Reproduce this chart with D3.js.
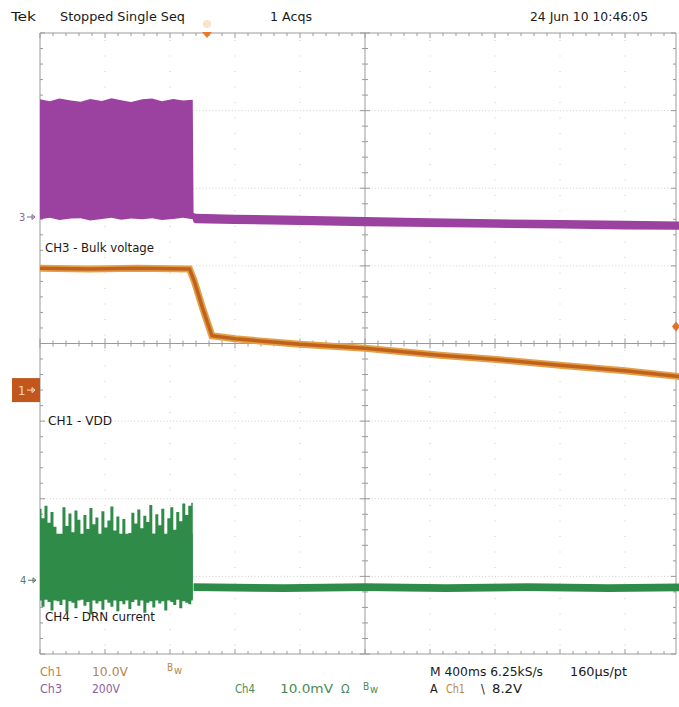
<!DOCTYPE html>
<html>
    <head>
        <title>Scope capture</title>
        <script src="https://d3js.org/d3.v7.min.js"></script>
        <style>
            body { margin:0; background:white; }
            svg { width:679px; height:707px; display:block; }
            text { font-family:'Liberation Sans Narrow','DejaVu Sans Condensed',sans-serif; }
        </style>
    </head>
    <body>
        <svg></svg>
    </body>
    <script>
        // Channel settings (volts per division, ground position in divisions)
        const channelNames = ['CH3', 'CH1', 'CH4'];
        const voltsPerDiv = { CH3: 200, CH1: 10, CH4: 10 };   // CH4 in mV
        const groundDiv   = { CH3: 1.63, CH1: -0.60, CH4: -3.05 };

        // CH3 bulk voltage: burst envelope then discharge band (V)
        const ch3Time   = [0, 0.06, 0.12, 0.19, 0.25, 0.31, 0.38, 0.44, 0.5, 0.56, 0.63, 0.69, 0.75, 0.82, 0.88, 0.94,
                           0.945, 0.96, 1.2, 1.6, 2.0, 2.4, 2.8, 3.2, 3.6, 3.95];
        const ch3Top    = [303, 298, 305, 300, 297, 304, 299, 306, 301, 296, 303, 305, 298, 304, 300, 302,
                           10, 8, 6, 3, 0, -3, -6, -8, -10, -12];
        const ch3Bottom = [-6, -2, -8, -4, -3, -9, -5, -2, -7, -4, -6, -3, -8, -5, -2, -6,
                           -14, -16, -18, -21, -24, -26, -28, -30, -32, -33];

        // CH1 VDD (V)
        const ch1Time  = [0, 0.3, 0.6, 0.92, 0.95, 1.0, 1.058, 1.2, 1.6, 2.0, 2.46, 2.83, 3.2, 3.6, 3.95];
        const ch1Volts = [15.7, 15.6, 15.7, 15.6, 14.0, 10.6, 7.0, 6.6, 5.9, 5.4, 4.5, 3.9, 3.2, 2.5, 1.7];

        // CH4 DRN current: switching burst peaks (mV), one per sample
        const ch4BurstTop = [9.2, 8.0, 9.6, 7.4, 8.8, 6.9, 3.4, 5.8, 9.4, 7.0, 8.6, 6.2, 9.0, 7.8, 5.2, 8.4, 6.6,
                             9.3, 7.2, 8.1, 5.9, 8.9, 6.8, 7.7, 9.5, 6.4, 8.2, 5.5, 7.9, 2.6, 6.1, 8.7, 7.3, 9.1,
                             6.7, 8.3, 7.5, 9.7, 6.0, 8.5, 7.1, 9.2, 5.7, 8.0, 9.4, 6.5, 8.8, 7.6, 9.9, 8.4, 9.6, 10.0];
        const ch4BurstBottom = [-2.6, -3.4, -2.5, -2.8, -3.9, -2.6, -2.7, -3.2, -2.5, -4.1, -2.7, -2.9, -3.6, -2.6,
                                -2.5, -3.3, -2.8, -4.4, -2.6, -3.0, -2.7, -3.8, -2.5, -2.9, -3.4, -2.6, -4.0, -2.7,
                                -3.1, -2.6, -3.7, -2.8, -2.5, -3.3, -2.6, -4.2, -2.9, -2.7, -3.5, -2.6, -3.0, -2.7,
                                -3.9, -2.6, -2.8, -3.2, -2.5, -3.6, -2.7, -2.9, -3.1, -2.6];
        const ch4BurstEnd = 0.94;   // s
        const ch4FlatTime   = [0.945, 1.5, 2.0, 2.5, 3.0, 3.5, 3.95];
        const ch4FlatTop    = [-0.4, -0.5, -0.4, -0.5, -0.4, -0.5, -0.4];
        const ch4FlatBottom = [-1.4, -1.5, -1.4, -1.5, -1.4, -1.5, -1.4];

        const headerTexts = ['Tek', 'Stopped  Single Seq', '1 Acqs', '24 Jun 10 10:46:05'];
        const traceLabels = ['CH3 - Bulk voltage', 'CH1 - VDD', 'CH4 - DRN current'];

        const svg = d3.select('svg');
        const width = 679, height = 707;
        const plot = { left:40, top:33, bottom:654, right:676 };
        const colors = { CH3:'#9b41a0', CH1:'#c0621c', CH1edge:'#e3a048', CH4:'#2f8c48' };

        svg.append('rect').attr('width', width).attr('height', height).attr('fill', 'white');

        // 0.4 s/div, 10 divisions; 8 vertical divisions
        const xScale = d3.scaleLinear().domain([0, 4]).range([plot.left, plot.left + 650]);
        const yScale = d3.scaleLinear().domain([-4, 4]).range([plot.bottom, plot.top]);
        const yCh = (ch, v) => yScale(v / voltsPerDiv[ch] + groundDiv[ch]);

        /* graticule */
        const grid = svg.append('g');
        const divX = d3.range(0, 4.01, 0.4), divY = d3.range(-4, 4.01, 1);
        grid.selectAll('.vgrid').data(divX.filter(t => t > 0 && t < 3.9 && Math.abs(t - 2) > 0.01))
            .enter().append('line')
            .attr('x1', d => xScale(d)).attr('x2', d => xScale(d))
            .attr('y1', plot.top).attr('y2', plot.bottom)
            .attr('stroke', '#c8c8c8').attr('stroke-dasharray', '1,14.5').attr('stroke-dashoffset', -7);
        grid.selectAll('.hgrid').data(divY.filter(d => d > -4 && d < 4 && d !== 0))
            .enter().append('line')
            .attr('x1', plot.left).attr('x2', plot.right)
            .attr('y1', d => yScale(d)).attr('y2', d => yScale(d))
            .attr('stroke', '#cdcdcd').attr('stroke-dasharray', '1,2.25');

        const minorX = d3.range(0, 3.92, 0.08), minorY = d3.range(-4, 4.01, 0.2);
        const axisColor = '#9a9a9a';
        // border
        grid.append('path')
            .attr('d', `M${plot.right},${plot.top}H${plot.left}V${plot.bottom}H${plot.right}V${plot.top}`)
            .attr('fill', 'none').attr('stroke', axisColor);
        // center axes
        grid.append('line').attr('x1', plot.left).attr('x2', plot.right)
            .attr('y1', yScale(0)).attr('y2', yScale(0)).attr('stroke', axisColor);
        grid.append('line').attr('x1', xScale(2)).attr('x2', xScale(2))
            .attr('y1', plot.top).attr('y2', plot.bottom).attr('stroke', axisColor);
        // ticks
        const tickLen = d => (Math.abs(d / 0.4 - Math.round(d / 0.4)) < 0.01 ? 5 : 3);
        minorX.forEach(t => {
            const x = xScale(t), l = tickLen(t);
            [[plot.top, plot.top + l], [plot.bottom - l, plot.bottom], [yScale(0) - l, yScale(0) + l]]
                .forEach(([a, b]) => grid.append('line').attr('x1', x).attr('x2', x)
                    .attr('y1', a).attr('y2', b).attr('stroke', axisColor));
        });
        minorY.forEach(v => {
            const y = yScale(v), l = Math.abs(v - Math.round(v)) < 0.01 ? 5 : 3;
            [[plot.left, plot.left + l], [plot.right - l, plot.right], [xScale(2) - l, xScale(2) + l]]
                .forEach(([a, b]) => grid.append('line').attr('x1', a).attr('x2', b)
                    .attr('y1', y).attr('y2', y).attr('stroke', axisColor));
        });

        /* traces */
        const traces = svg.append('g');

        // CH3
        const ch3Data = ch3Time.map((t, i) => ({ t, hi: ch3Top[i], lo: ch3Bottom[i] }));
        traces.append('path').datum(ch3Data)
            .attr('d', d3.area().x(d => xScale(d.t)).y0(d => yCh('CH3', d.lo)).y1(d => yCh('CH3', d.hi)))
            .attr('fill', colors.CH3);

        // CH1
        const ch1Data = ch1Time.map((t, i) => ({ t, v: ch1Volts[i] }));
        const ch1Line = d3.line().x(d => xScale(d.t)).y(d => yCh('CH1', d.v));
        traces.append('path').datum(ch1Data).attr('d', ch1Line)
            .attr('fill', 'none').attr('stroke', colors.CH1edge).attr('stroke-width', 7);
        traces.append('path').datum(ch1Data).attr('d', ch1Line)
            .attr('fill', 'none').attr('stroke', colors.CH1).attr('stroke-width', 3.5);

        // CH4
        const step = ch4BurstEnd / (ch4BurstTop.length - 1);
        const ch4Burst = ch4BurstTop.map((v, i) => ({ t: i * step, hi: v, lo: ch4BurstBottom[i] }));
        const ch4Flat = ch4FlatTime.map((t, i) => ({ t, hi: ch4FlatTop[i], lo: ch4FlatBottom[i] }));
        const ch4Area = d3.area().x(d => xScale(d.t))
            .y0(d => yCh('CH4', d.lo)).y1(d => yCh('CH4', d.hi));
        traces.append('path').datum(ch4Burst).attr('d', ch4Area.curve(d3.curveStep))
            .attr('fill', colors.CH4);
        // a solid core under the spikes
        traces.append('path').datum(ch4Burst)
            .attr('d', d3.area().x(d => xScale(d.t)).y0(yCh('CH4', -2.4)).y1(yCh('CH4', 6.0)))
            .attr('fill', colors.CH4);
        traces.append('path').datum(ch4Flat)
            .attr('d', d3.area().x(d => xScale(d.t)).y0(d => yCh('CH4', d.lo)).y1(d => yCh('CH4', d.hi)))
            .attr('fill', colors.CH4);

        /* markers */
        const mk = svg.append('g');
        mk.append('text').attr('x', 19).attr('y', yCh('CH3', 0) + 4).attr('font-size', 11)
            .attr('fill', '#8a6a92').text('3');
        mk.append('path').attr('d', `M27,${yCh('CH3', 0)}h8l-3,-2.5v5l3,-2.5`)
            .attr('stroke', '#8a6a92').attr('fill', 'none');
        mk.append('rect').attr('x', 12).attr('y', yCh('CH1', 0) - 12).attr('width', 28).attr('height', 24)
            .attr('fill', '#c2571e');
        mk.append('text').attr('x', 18).attr('y', yCh('CH1', 0) + 5).attr('font-size', 13)
            .attr('fill', '#f4d8c0').text('1');
        mk.append('path').attr('d', `M27,${yCh('CH1', 0)}h8l-3,-2.5v5l3,-2.5`)
            .attr('stroke', '#f4d8c0').attr('fill', 'none');
        mk.append('text').attr('x', 20).attr('y', yCh('CH4', 0) + 4).attr('font-size', 11)
            .attr('fill', '#5a7a5e').text('4');
        mk.append('path').attr('d', `M28,${yCh('CH4', 0)}h8l-3,-2.5v5l3,-2.5`)
            .attr('stroke', '#5a7a5e').attr('fill', 'none');
        // trigger position and level
        mk.append('path').attr('d', `M202,32h10l-5,6z`).attr('fill', '#e8782a');
        mk.append('circle').attr('cx', 207).attr('cy', 24).attr('r', 4).attr('fill', '#fbe3cc');
        mk.append('path').attr('d', `M${plot.right},${yCh('CH1', 8.2) - 5}l4,5l-4,5l-4,-5z`).attr('fill', '#d9742e');

        /* text */
        const txt = (x, y, s, opts = {}) => {
            const t = svg.append('text').attr('x', x).attr('y', y)
                .attr('font-size', opts.size || 12.5).attr('fill', opts.color || '#1a1a1a').text(s);
            if (opts.w) t.attr('textLength', opts.w).attr('lengthAdjust', 'spacingAndGlyphs');
            return t;
        };
        txt(11, 21, headerTexts[0], { w: 25 });
        txt(60, 21, headerTexts[1], { w: 125 });
        txt(270, 21, headerTexts[2], { w: 42 });
        txt(530, 21, headerTexts[3], { w: 118 });

        txt(45, 252, traceLabels[0], { w: 109 });
        txt(48, 425, traceLabels[1], { w: 64 });
        txt(45, 621, traceLabels[2], { w: 110 });

        const c1 = '#b8864a', c3 = '#8c5ea6', c4 = '#4b8b52';
        const row1 = 676, row2 = 693;
        txt(40, row1, 'Ch1', { color: c1, w: 22 });
        txt(92, row1, '10.0V', { color: c1, w: 36 });
        txt(167, row1 - 5, 'B', { color: c1, size: 10 });
        txt(174, row1 - 2, 'w', { color: c1, size: 11 });
        txt(40, row2, 'Ch3', { color: c3, w: 22 });
        txt(92, row2, '200V', { color: c3, w: 28 });
        txt(235, row2, 'Ch4', { color: c4, w: 20 });
        txt(280, row2, '10.0mV', { color: c4, w: 53 });
        txt(341, row2, 'Ω', { color: c4 });
        txt(363, row2 - 3, 'B', { color: c4, size: 10 });
        txt(370, row2, 'w', { color: c4, size: 11 });
        txt(430, row1, 'M 400ms 6.25kS/s', { w: 113 });
        txt(570, row1, '160µs/pt', { w: 57 });
        txt(430, row2, 'A');
        txt(446, row2, 'Ch1', { color: c1, w: 19 });
        txt(481, row2, '\\');
        txt(492, row2, '8.2V', { w: 30 });
    </script>
</html>
